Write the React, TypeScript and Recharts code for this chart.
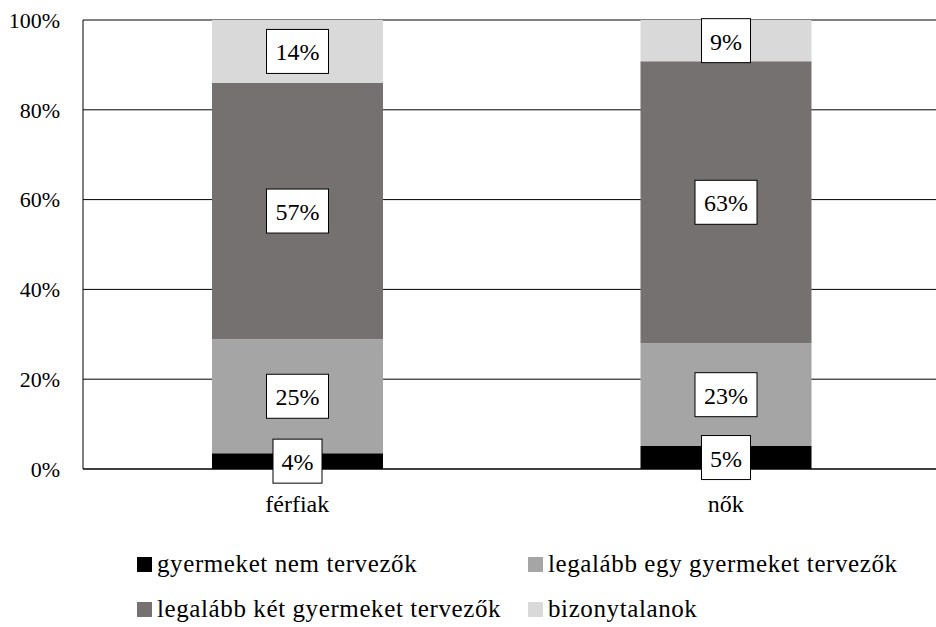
import { Bar, BarChart, CartesianGrid, LabelList, XAxis, YAxis } from 'recharts'

const groups = ['férfiak', 'nők']
const seriesNames = [
  'gyermeket nem tervezők',
  'legalább egy gyermeket tervezők',
  'legalább két gyermeket tervezők',
  'bizonytalanok',
]
const noPlans = [3.5, 5.1]
const oneChild = [25.4, 22.9]
const twoChildren = [57.1, 62.8]
const unsure = [14.0, 9.2]
const yTicks = [0, 20, 40, 60, 80, 100]

const colors = ['#000000', '#a5a5a5', '#767171', '#d9d9d9']
const keys = ['s0', 's1', 's2', 's3']
const FONT = "'Liberation Serif', 'Times New Roman', serif"

const data = groups.map((g, i) => ({
  name: g,
  s0: noPlans[i],
  s1: oneChild[i],
  s2: twoChildren[i],
  s3: unsure[i],
}))

function BoxLabel(props: any) {
  const { x, y, width, height, value } = props
  const cx = x + width / 2
  const cy = y + height / 2
  const txt = `${Math.round(value)}%`
  const w = txt.length === 2 ? 49 : 62
  const h = 44
  return (
    <g>
      <rect x={cx - w / 2} y={cy - h / 2} width={w} height={h} fill="#fff" stroke="#000" strokeWidth={1} />
      <text x={cx} y={cy + 1} textAnchor="middle" dominantBaseline="central" style={{ fontSize: 24, fontFamily: FONT }} fill="#000">
        {txt}
      </text>
    </g>
  )
}

function LegendBox() {
  const item = (i: number, left: number, top: number) => (
    <div key={i} style={{ position: 'absolute', left, top, display: 'flex', alignItems: 'center', whiteSpace: 'nowrap' }}>
      <span style={{ width: 15, height: 15, background: colors[i], display: 'inline-block', marginRight: 5 }} />
      <span style={{ fontSize: 25, fontFamily: FONT, color: '#000', lineHeight: '28px', letterSpacing: 0.6 }}>{seriesNames[i]}</span>
    </div>
  )
  return (
    <div style={{ position: 'absolute', left: 0, top: 550, width: 936, height: 80 }}>
      {item(0, 137, 0)}
      {item(1, 528, 0)}
      {item(2, 137, 45)}
      {item(3, 528, 45)}
    </div>
  )
}

export default function App() {
  return (
    <div style={{ position: 'absolute', left: 0, top: 0, width: 936, height: 627, overflow: 'hidden', background: '#fff', fontFamily: FONT }}>
      <BarChart
        width={940}
        height={540}
        data={data}
        margin={{ top: 20, right: 0, bottom: 21, left: 0 }}
        barSize={171}
        style={{ fontFamily: FONT }}
      >
        <CartesianGrid vertical={false} stroke="#000" strokeWidth={1} />
        <XAxis
          dataKey="name"
          axisLine={{ stroke: '#000' }}
          tickLine={false}
          tick={{ fontSize: 24, fill: '#000', style: { fontFamily: FONT } }}
          tickMargin={20}
          height={50}
        />
        <YAxis
          domain={[0, 100]}
          ticks={yTicks}
          tickFormatter={(v: number) => `${v}%`}
          axisLine={{ stroke: '#000' }}
          tickLine={false}
          tick={{ fontSize: 22, fill: '#000', style: { fontFamily: FONT } }}
          width={83}
          tickMargin={17}
        />
        {keys.map((k, i) => (
          <Bar key={k} dataKey={k} stackId="a" fill={colors[i]} name={seriesNames[i]} isAnimationActive={false}>
            <LabelList dataKey={k} content={BoxLabel} />
          </Bar>
        ))}
      </BarChart>
      <LegendBox />
    </div>
  )
}
